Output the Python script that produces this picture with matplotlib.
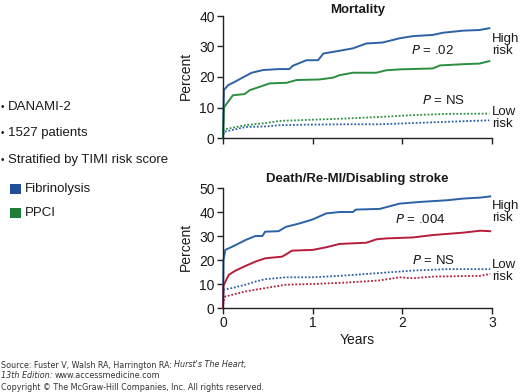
import matplotlib
matplotlib.use('Agg')
import matplotlib.pyplot as plt
from matplotlib.patches import Rectangle

plt.rcParams['font.family'] = ['Liberation Sans', 'DejaVu Sans']

# ── Data ──────────────────────────────────────────────────────────
# Mortality, high risk
mort_hi_yrs_fib  = [0, 0.01, 0.056, 0.13, 0.32, 0.45, 0.63, 0.74, 0.78, 0.93, 1.06, 1.12,
                    1.30, 1.45, 1.60, 1.78, 1.97, 2.12, 2.34, 2.45, 2.68, 2.86, 2.97]
mort_hi_fib      = [0, 15.7, 17.3, 18.4, 21.4, 22.3, 22.6, 22.6, 23.7, 25.5, 25.5, 27.7,
                    28.6, 29.4, 31.0, 31.3, 32.7, 33.4, 33.8, 34.5, 35.2, 35.4, 36.0]
mort_hi_yrs_pci  = [0, 0.01, 0.11, 0.24, 0.30, 0.41, 0.52, 0.71, 0.82, 1.08, 1.23, 1.30,
                    1.45, 1.71, 1.82, 1.97, 2.34, 2.42, 2.68, 2.86, 2.97]
mort_hi_pci      = [0, 10.0, 14.0, 14.4, 15.7, 16.8, 17.9, 18.1, 19.0, 19.2, 19.8, 20.6,
                    21.4, 21.4, 22.2, 22.5, 22.8, 23.8, 24.2, 24.4, 25.2]
# Mortality, low risk
mort_lo_yrs      = [0, 0.01, 0.25, 0.48, 0.63, 1.0, 1.38, 1.75, 2.12, 2.49, 2.97]
mort_lo_fib      = [0, 2.0, 3.6, 3.8, 4.2, 4.4, 4.5, 4.5, 4.9, 5.3, 5.8]
mort_lo_pci      = [0, 2.8, 4.2, 4.9, 5.6, 6.0, 6.4, 6.9, 7.5, 7.9, 8.0]

# Death / Re-MI / Disabling stroke, high risk
comp_hi_yrs_fib  = [0, 0.005, 0.026, 0.14, 0.25, 0.36, 0.44, 0.47, 0.62, 0.70, 0.85, 1.00,
                    1.15, 1.30, 1.45, 1.48, 1.75, 1.86, 1.97, 2.20, 2.50, 2.68, 2.87, 2.98]
comp_hi_fib      = [0, 20.0, 24.2, 26.2, 28.3, 30.0, 30.0, 31.8, 32.0, 33.8, 35.2, 36.9,
                    39.4, 40.0, 40.0, 41.0, 41.3, 42.4, 43.5, 44.2, 44.9, 45.6, 46.0, 46.5]
comp_hi_yrs_red  = [0, 0.005, 0.064, 0.14, 0.25, 0.36, 0.47, 0.66, 0.77, 1.0, 1.15, 1.30,
                    1.60, 1.71, 1.82, 2.12, 2.34, 2.68, 2.87, 2.98]
comp_hi_red      = [0, 9.3, 13.8, 15.6, 17.5, 19.3, 20.7, 21.4, 23.9, 24.2, 25.3, 26.7,
                    27.2, 28.6, 29.0, 29.4, 30.4, 31.4, 32.2, 32.0]
# Death / Re-MI / Disabling stroke, low risk
comp_lo_yrs_fib  = [0, 0.005, 0.10, 0.25, 0.36, 0.47, 0.70, 1.0, 1.30, 1.60, 1.90, 2.12, 2.50, 2.98]
comp_lo_fib      = [0, 7.6, 8.3, 9.7, 11.0, 12.0, 12.8, 12.8, 13.4, 14.2, 15.0, 15.6, 16.2, 16.2]
comp_lo_yrs_red  = [0, 0.005, 0.026, 0.25, 0.47, 0.70, 1.0, 1.37, 1.75, 1.97, 2.12, 2.35, 2.87, 2.98]
comp_lo_red      = [0, 2.8, 4.8, 6.9, 8.3, 9.7, 10.0, 10.6, 11.5, 12.8, 12.4, 13.1, 13.4, 14.2]

BLUE  = '#2b62a6'
GREEN = '#2c8e41'
RED   = '#b81c3c'
TXT   = '#1a1a1a'

W, H = 520, 392
fig = plt.figure(figsize=(W / 100, H / 100), dpi=100)
fig.patch.set_facecolor('white')

def px(x, y):
    return x / W, 1 - y / H

def style_axes(ax, ymax, yticks, show_xlabels):
    ax.set_xlim(0, 3)
    ax.set_ylim(0, ymax)
    for s in ('top', 'right'):
        ax.spines[s].set_visible(False)
    for s in ('left', 'bottom'):
        ax.spines[s].set_linewidth(1.0)
        ax.spines[s].set_color('#222')
    ax.set_xticks([0, 1, 2, 3])
    ax.set_yticks(yticks)
    ax.tick_params(direction='out', length=4, width=1.0, color='#222',
                   labelsize=10, labelcolor=TXT, pad=2)
    if not show_xlabels:
        ax.set_xticklabels([])
    ax.patch.set_alpha(0)

# ── Top panel: Mortality ─────────────────────────────────────────
l, r = 223 / W, 492 / W
ax1 = fig.add_axes([l, 1 - 138 / H, r - l, (138 - 16) / H])
style_axes(ax1, 40, [0, 10, 20, 30, 40], False)
ax1.plot(mort_hi_yrs_fib, mort_hi_fib, color=BLUE, lw=1.4, clip_on=False)
ax1.plot(mort_hi_yrs_pci, mort_hi_pci, color=GREEN, lw=1.4, clip_on=False)
ax1.plot(mort_lo_yrs, mort_lo_pci, color=GREEN, lw=1.3, ls=(0, (1, 1)), clip_on=False)
ax1.plot(mort_lo_yrs, mort_lo_fib, color=BLUE, lw=1.3, ls=(0, (1, 1)), clip_on=False)
ax1.set_title('Mortality', fontsize=9.5, fontweight='bold', color=TXT, pad=2)

# ── Bottom panel: Death/Re-MI/Disabling stroke ───────────────────
ax2 = fig.add_axes([l, 1 - 308 / H, r - l, (308 - 188) / H])
style_axes(ax2, 50, [0, 10, 20, 30, 40, 50], True)
ax2.plot(comp_hi_yrs_fib, comp_hi_fib, color=BLUE, lw=1.4, clip_on=False)
ax2.plot(comp_hi_yrs_red, comp_hi_red, color=RED, lw=1.4, clip_on=False)
ax2.plot(comp_lo_yrs_fib, comp_lo_fib, color=BLUE, lw=1.3, ls=(0, (1, 1)), clip_on=False)
ax2.plot(comp_lo_yrs_red, comp_lo_red, color=RED, lw=1.3, ls=(0, (1, 1)), clip_on=False)
ax2.set_title('Death/Re-MI/Disabling stroke', fontsize=9.5, fontweight='bold', color=TXT, pad=4)
ax2.set_xlabel('Years', fontsize=10, color=TXT, labelpad=2)

# y labels
fig.text(*px(186, 76), 'Percent', rotation=90, ha='center', va='center', fontsize=10, color=TXT)
fig.text(*px(186, 247), 'Percent', rotation=90, ha='center', va='center', fontsize=10, color=TXT)

# curve annotations
def ann(x, y, s, **kw):
    fig.text(*px(x, y), s, fontsize=9.5, color=TXT, va='center', ha='left', **kw)

ann(492, 45, 'High\nrisk', linespacing=1.05)
ann(492, 118, 'Low\nrisk', linespacing=1.05)
ann(411, 50, r'$\it{P}$ = .02')
ann(422, 101, r'$\it{P}$ = NS')
ann(492, 212, 'High\nrisk', linespacing=1.05)
ann(492, 271, 'Low\nrisk', linespacing=1.05)
ann(395, 220, r'$\it{P}$ = .004')
ann(412, 260, r'$\it{P}$ = NS')

# ── Left-hand notes and legend ───────────────────────────────────
for yy, s in [(107, 'DANAMI-2'), (133, '1527 patients'), (160, 'Stratified by TIMI risk score')]:
    fig.text(*px(1, yy), '\u2022', fontsize=7, va='center', ha='left', color=TXT)
    fig.text(*px(8, yy), s, fontsize=9.5, va='center', ha='left', color=TXT)

for yy, s, c in [(189, 'Fibrinolysis', '#1f4f98'), (213, 'PPCI', '#1e7d36')]:
    x0, y0 = px(10, yy + 5)
    fig.add_artist(Rectangle((x0, y0), 11 / W, 10 / H, transform=fig.transFigure,
                             facecolor=c, edgecolor='none'))
    fig.text(*px(25, yy), s, fontsize=9.5, va='center', ha='left', color=TXT)

# ── Footer ───────────────────────────────────────────────────────
foot = dict(fontsize=5.8, color='#333', va='center', ha='left', family='DejaVu Sans')

def chain(prev, s, **kw):
    return ax2.annotate(s, xy=(1, 0.5), xycoords=prev, va='center', ha='left',
                        fontsize=5.8, color='#333', family='DejaVu Sans',
                        annotation_clip=False, **kw)

t = fig.text(*px(1, 365), 'Source: Fuster V, Walsh RA, Harrington RA: ', **foot)
chain(t, "Hurst's The Heart,", style='italic')
t = fig.text(*px(1, 375), '13th Edition: ', style='italic', **foot)
chain(t, 'www.accessmedicine.com')
fig.text(*px(1, 387), 'Copyright \u00a9 The McGraw-Hill Companies, Inc. All rights reserved.', **foot)

fig.savefig('out.png', dpi=100, facecolor='white')
